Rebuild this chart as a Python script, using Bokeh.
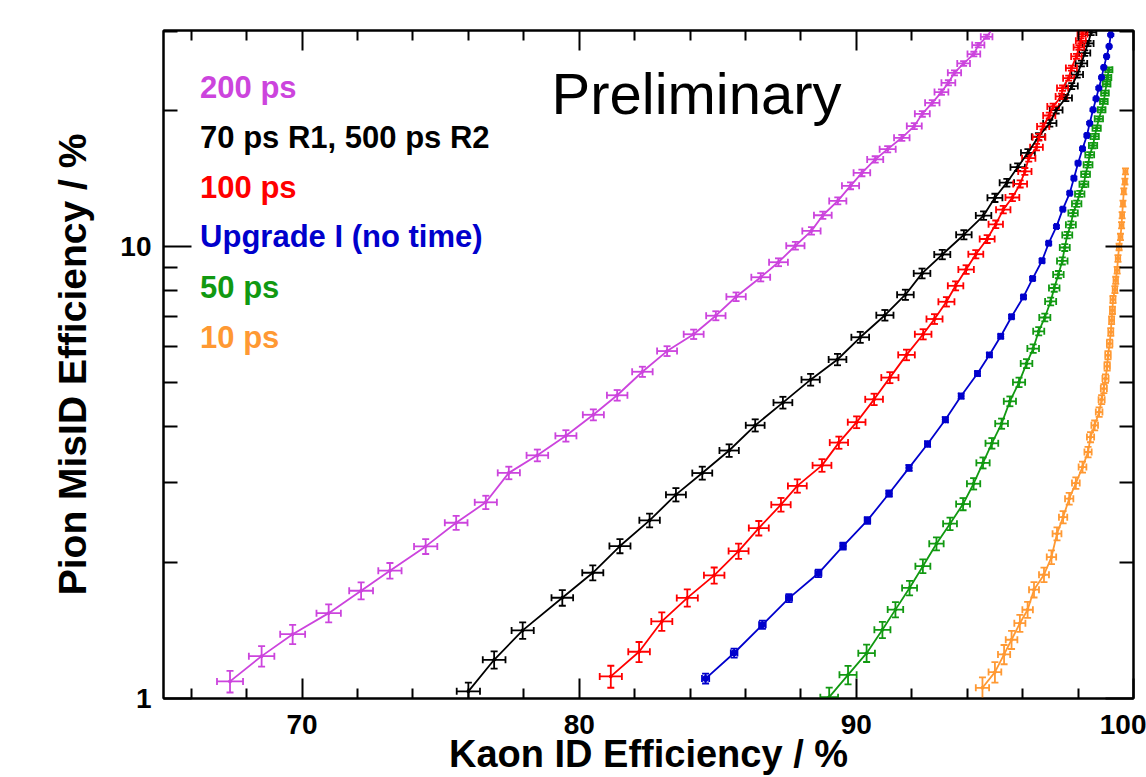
import numpy as np
from bokeh.plotting import figure
from bokeh.models import (Range1d, FixedTicker, LinearAxis, LogAxis, Whisker,
                          TeeHead, ColumnDataSource, Label, PrintfTickFormatter)
from bokeh.embed import file_html
from bokeh.resources import INLINE

FONT = "Liberation Sans"

# ---------------- data (Kaon ID eff %, Pion MisID eff %) ----------------
x_200 = [67.40,68.54,69.66,70.96,72.13,73.17,74.46,75.56,76.63,77.46,78.49,79.52,80.51,81.37,82.28,
         83.17,84.13,84.93,85.66,86.55,87.19,87.80,88.38,88.79,89.33,89.79,90.20,90.68,91.13,91.64,
         92.09,92.38,92.74,93.07,93.32,93.54,93.87,94.24,94.40,94.70,94.96]
y_200 = [1.091,1.241,1.388,1.545,1.732,1.918,2.171,2.449,2.718,3.158,3.453,3.814,4.246,4.690,5.287,
         5.875,6.401,7.035,7.750,8.559,9.240,10.05,10.84,11.74,12.63,13.64,14.57,15.60,16.44,17.42,
         18.49,19.68,20.82,21.99,23.06,24.26,25.45,26.69,27.95,29.15,30.63]
xe_200 = [0.47,0.46,0.45,0.44,0.43,0.42,0.42,0.41,0.40,0.40,0.39,0.38,0.38,0.37,0.37,0.36,0.36,0.35,
          0.35,0.34,0.34,0.33,0.33,0.32,0.31,0.31,0.30,0.29,0.29,0.28,0.27,0.27,0.26,0.25,0.25,0.24,
          0.23,0.23,0.22,0.21,0.21]
ye_200 = [5.5,5.2,4.9,4.6,4.3,4.0,3.8,3.6,3.4,3.2,3.0,2.9,2.8,2.7,2.6,2.5,2.4,2.3,2.2,2.1,2.0,1.95,
          1.9,1.85,1.8,1.75,1.7,1.65,1.6,1.55,1.5,1.45,1.4,1.35,1.3,1.25,1.2,1.2,1.15,1.1,1.1]

x_70 = [76.00,76.93,77.96,79.39,80.49,81.47,82.54,83.49,84.44,85.41,86.35,87.35,88.35,89.32,90.14,
        91.03,91.77,92.37,93.10,93.88,94.59,95.00,95.43,95.82,96.19,96.57,96.98,97.21,97.56,97.77,
        97.97,98.12,98.24,98.36,98.47]
y_70 = [1.037,1.218,1.415,1.671,1.898,2.175,2.479,2.826,3.155,3.539,4.024,4.518,5.078,5.628,6.303,
        7.053,7.829,8.728,9.610,10.63,11.72,12.83,13.86,15.00,16.14,17.52,18.77,20.06,21.35,22.67,
        24.04,25.45,26.83,28.18,29.80]
xe_70 = [0.42,0.41,0.40,0.39,0.38,0.38,0.37,0.36,0.36,0.35,0.34,0.34,0.33,0.32,0.32,0.31,0.30,0.30,
         0.29,0.28,0.28,0.27,0.26,0.26,0.25,0.24,0.24,0.23,0.22,0.22,0.21,0.21,0.20,0.20,0.19]
ye_70 = [4.6,4.4,4.2,4.0,3.8,3.6,3.5,3.4,3.3,3.2,3.1,3.0,3.0,2.9,2.8,2.7,2.6,2.5,2.4,2.3,2.2,2.1,
         2.0,1.95,1.9,1.8,1.75,1.7,1.6,1.55,1.5,1.45,1.4,1.35,1.3]

x_100 = [81.14,82.16,82.98,83.90,84.87,85.75,86.48,87.28,87.87,88.76,89.37,90.01,90.64,91.21,91.81,
         92.41,92.82,93.25,93.58,93.96,94.31,94.72,95.03,95.30,95.63,95.91,96.08,96.22,96.50,96.59,
         96.74,96.96,97.10,97.40,97.44,97.66,97.76,97.94,98.03,98.10,98.16]
y_100 = [1.119,1.269,1.481,1.670,1.873,2.120,2.383,2.685,2.955,3.281,3.685,4.089,4.594,5.132,5.762,
         6.401,6.918,7.553,8.193,8.903,9.625,10.40,11.21,12.08,12.85,13.77,14.68,15.70,16.61,17.48,
         18.46,19.52,20.44,21.51,22.44,23.61,24.85,26.38,27.62,28.56,29.55]
xe_100 = [0.40,0.39,0.38,0.38,0.37,0.36,0.36,0.35,0.34,0.34,0.33,0.32,0.32,0.31,0.30,0.30,0.29,0.29,
          0.28,0.28,0.27,0.27,0.26,0.26,0.25,0.25,0.24,0.24,0.23,0.23,0.22,0.22,0.21,0.21,0.20,0.20,
          0.20,0.19,0.19,0.18,0.18]
ye_100 = [5.6,5.1,4.7,4.4,4.1,3.9,3.7,3.5,3.4,3.2,3.1,3.0,2.9,2.8,2.7,2.6,2.5,2.4,2.3,2.2,2.1,2.0,
          1.95,1.9,1.85,1.8,1.75,1.7,1.65,1.6,1.55,1.5,1.45,1.4,1.35,1.3,1.3,1.25,1.2,1.2,1.15]

x_up1 = [84.56,85.59,86.61,87.57,88.63,89.52,90.40,91.18,91.90,92.57,93.21,93.78,94.37,94.80,95.21,
         95.60,96.03,96.36,96.70,96.94,97.22,97.45,97.70,97.85,98.00,98.16,98.32,98.42,98.54,98.65,
         98.75,98.85,98.93,99.03,99.12,99.18]
y_up1 = [1.107,1.261,1.456,1.668,1.893,2.175,2.479,2.842,3.239,3.659,4.140,4.671,5.239,5.760,6.335,
         6.998,7.741,8.500,9.311,10.18,11.08,12.11,13.14,14.18,15.31,16.47,17.63,18.77,20.09,21.25,
         22.44,23.70,24.94,26.38,27.76,29.45]
xe_up1 = [0.13,0.12,0.12,0.11,0.11,0.10,0.10,0.10,0.09,0.09,0.09,0.08,0.08,0.08,0.08,0.07,0.07,0.07,
          0.07,0.07,0.06,0.06,0.06,0.06,0.06,0.06,0.06,0.05,0.05,0.05,0.05,0.05,0.05,0.05,0.05,0.05]
ye_up1 = [2.5,2.3,2.1,2.0,1.9,1.8,1.7,1.6,1.5,1.4,1.3,1.25,1.2,1.1,1.05,1.0,0.95,0.9,0.9,0.85,0.8,
          0.8,0.75,0.75,0.7,0.7,0.65,0.65,0.6,0.6,0.6,0.55,0.55,0.55,0.5,0.5]

x_50 = [89.02,89.70,90.37,90.94,91.41,91.92,92.40,92.89,93.38,93.85,94.23,94.57,94.89,95.24,95.54,
        95.87,96.14,96.38,96.58,96.80,97.01,97.14,97.29,97.43,97.52,97.61,97.74,97.82,97.95,98.06,
        98.21,98.27,98.36,98.42,98.54,98.60,98.67,98.75,98.85,98.93,98.97,99.03,99.06,99.11]
y_50 = [1.007,1.128,1.260,1.419,1.573,1.757,1.963,2.201,2.437,2.694,2.988,3.323,3.672,4.059,4.548,
        5.010,5.512,5.951,6.498,6.971,7.565,8.103,8.676,9.301,9.959,10.61,11.19,11.87,12.45,13.09,
        13.75,14.47,15.18,15.97,16.75,17.54,18.30,19.19,20.09,20.97,21.88,22.91,23.70,24.64]
xe_50 = [0.32,0.31,0.30,0.29,0.28,0.27,0.27,0.26,0.25,0.25,0.24,0.24,0.23,0.23,0.22,0.22,0.21,0.21,
         0.20,0.20,0.20,0.19,0.19,0.19,0.18,0.18,0.18,0.17,0.17,0.17,0.16,0.16,0.16,0.16,0.15,0.15,
         0.15,0.15,0.14,0.14,0.14,0.14,0.14,0.13]
ye_50 = [5.0,4.7,4.4,4.1,3.9,3.7,3.5,3.3,3.2,3.1,2.9,2.8,2.7,2.6,2.5,2.4,2.3,2.2,2.1,2.0,1.95,1.9,
         1.85,1.8,1.75,1.7,1.65,1.6,1.55,1.5,1.5,1.45,1.45,1.4,1.4,1.35,1.35,1.3,1.3,1.25,1.25,1.2,
         1.2,1.2]

x_10 = [94.55,95.00,95.33,95.60,95.90,96.18,96.41,96.77,97.04,97.24,97.46,97.68,97.92,98.16,98.36,
        98.45,98.60,98.76,98.85,98.93,98.99,99.05,99.08,99.14,99.18,99.21,99.24,99.26,99.33,99.36,
        99.41,99.44,99.48,99.53,99.57,99.59,99.62,99.65,99.69,99.71]
y_10 = [1.056,1.144,1.252,1.349,1.468,1.572,1.741,1.879,2.056,2.316,2.520,2.769,2.998,3.253,3.512,
        3.790,4.024,4.306,4.587,4.852,5.106,5.436,5.751,6.104,6.476,6.874,7.234,7.639,8.038,8.429,
        8.872,9.417,9.990,10.51,11.16,11.74,12.46,13.26,13.94,14.68]
xe_10 = [0.24,0.23,0.22,0.21,0.20,0.19,0.18,0.18,0.17,0.16,0.15,0.15,0.14,0.14,0.13,0.13,0.12,0.12,
         0.11,0.11,0.11,0.10,0.10,0.10,0.09,0.09,0.09,0.09,0.08,0.08,0.08,0.08,0.08,0.07,0.07,0.07,
         0.07,0.07,0.07,0.07]
ye_10 = [5.5,5.2,4.9,4.6,4.3,4.1,3.9,3.7,3.5,3.3,3.1,3.0,2.9,2.8,2.7,2.6,2.5,2.4,2.3,2.25,2.2,2.15,
         2.1,2.05,2.0,1.95,1.9,1.85,1.8,1.8,1.75,1.7,1.7,1.65,1.6,1.6,1.55,1.55,1.5,1.5]

labels = ["200 ps", "70 ps R1, 500 ps R2", "100 ps", "Upgrade I (no time)", "50 ps", "10 ps"]
colors = ["#cc44dd", "#000000", "#ff0000", "#0000cc", "#119911", "#ff9933"]
xs = [x_200, x_70, x_100, x_up1, x_50, x_10]
ys = [y_200, y_70, y_100, y_up1, y_50, y_10]
xes = [xe_200, xe_70, xe_100, xe_up1, xe_50, xe_10]
yes = [ye_200, ye_70, ye_100, ye_up1, ye_50, ye_10]
legend_y = [22.52, 17.46, 13.52, 10.52, 8.122, 6.292]

x_major = [70, 80, 90, 100]
x_minor = [66, 68, 72, 74, 76, 78, 82, 84, 86, 88, 92, 94, 96, 98]
y_major = [1, 10]
y_minor = [2, 3, 4, 5, 6, 7, 8, 9, 20, 30]

# ---------------- figure ----------------
p = figure(width=1146, height=777, x_range=Range1d(65, 100), y_range=Range1d(1, 30.1),
           y_axis_type="log", output_backend="svg", toolbar_location=None,
           min_border_left=163, min_border_right=13, min_border_top=30, min_border_bottom=79,
           background_fill_color="white", border_fill_color="white")
p.grid.visible = False
p.outline_line_color = "black"
p.outline_line_width = 2

xt = FixedTicker(ticks=x_major, minor_ticks=x_minor)
yt = FixedTicker(ticks=y_major, minor_ticks=y_minor)


def style(ax, maj, mino):
    ax.axis_line_width = 2
    ax.axis_line_color = "black"
    ax.major_tick_in = maj
    ax.major_tick_out = 0
    ax.minor_tick_in = mino
    ax.minor_tick_out = 0
    ax.major_tick_line_width = 2
    ax.minor_tick_line_width = 2
    ax.major_tick_line_color = "black"
    ax.minor_tick_line_color = "black"
    ax.major_label_text_font = FONT
    ax.major_label_text_font_style = "bold"
    ax.major_label_text_font_size = "28px"
    ax.major_label_text_color = "black"


xax = p.xaxis[0]
xax.ticker = xt
style(xax, 20, 10)
xax.major_label_standoff = 16
xax.axis_label = "Kaon ID Efficiency / %"
xax.axis_label_text_font = FONT
xax.axis_label_text_font_style = "bold"
xax.axis_label_text_font_size = "38px"
xax.axis_label_text_color = "black"
xax.axis_label_standoff = -4

yax = p.yaxis[0]
yax.ticker = yt
yax.formatter = PrintfTickFormatter(format="%d")
style(yax, 28, 14)
yax.major_label_standoff = 12
yax.axis_label = "Pion MisID Efficiency / %"
yax.axis_label_text_font = FONT
yax.axis_label_text_font_style = "bold"
yax.axis_label_text_font_size = "39px"
yax.axis_label_text_color = "black"
yax.axis_label_standoff = 23

# mirrored tick marks on top and right (no labels)
top = LinearAxis(ticker=xt)
style(top, 20, 10)
top.major_label_overrides = {t: "" for t in x_major}
top.major_label_text_font_size = "2px"
top.major_label_text_alpha = 0
top.major_label_standoff = 0
p.add_layout(top, "above")
right = LogAxis(ticker=yt)
style(right, 28, 14)
right.major_label_overrides = {t: "" for t in y_major}
right.major_label_text_font_size = "2px"
right.major_label_text_alpha = 0
right.major_label_standoff = 0
p.add_layout(right, "right")

# ---------------- series ----------------
for lab, c, x, y, xe, ye in zip(labels, colors, xs, ys, xes, yes):
    x = np.array(x, float); y = np.array(y, float)
    xe = np.array(xe, float); ye = np.array(ye, float) / 100.0 * y
    src = ColumnDataSource(dict(x=x, y=y, xl=x - xe, xu=x + xe, yl=y - ye, yu=y + ye))
    p.line("x", "y", source=src, line_color=c, line_width=1.8)
    for dim, base, lo, up in (("height", "x", "yl", "yu"), ("width", "y", "xl", "xu")):
        p.add_layout(Whisker(source=src, base=base, lower=lo, upper=up, dimension=dim,
                             line_color=c, line_width=1.8,
                             upper_head=TeeHead(size=7, line_color=c, line_width=1.8),
                             lower_head=TeeHead(size=7, line_color=c, line_width=1.8)))
    if lab.startswith("Upgrade"):
        p.scatter("x", "y", source=src, size=6, fill_color=c, line_color=c)
    else:
        p.scatter("x", "y", source=src, size=3, fill_color=c, line_color=c)

# ---------------- texts ----------------
for lab, c, ly in zip(labels, colors, legend_y):
    p.add_layout(Label(x=66.32, y=ly, text=lab, text_color=c, text_font=FONT,
                       text_font_style="bold", text_font_size="31px",
                       text_baseline="alphabetic", text_align="left"))

p.add_layout(Label(x=79.0, y=21.80, text="Preliminary", text_color="black", text_font=FONT,
                   text_font_size="58px", text_baseline="alphabetic", text_align="left"))

open("out.html", "w").write(file_html(p, INLINE))
